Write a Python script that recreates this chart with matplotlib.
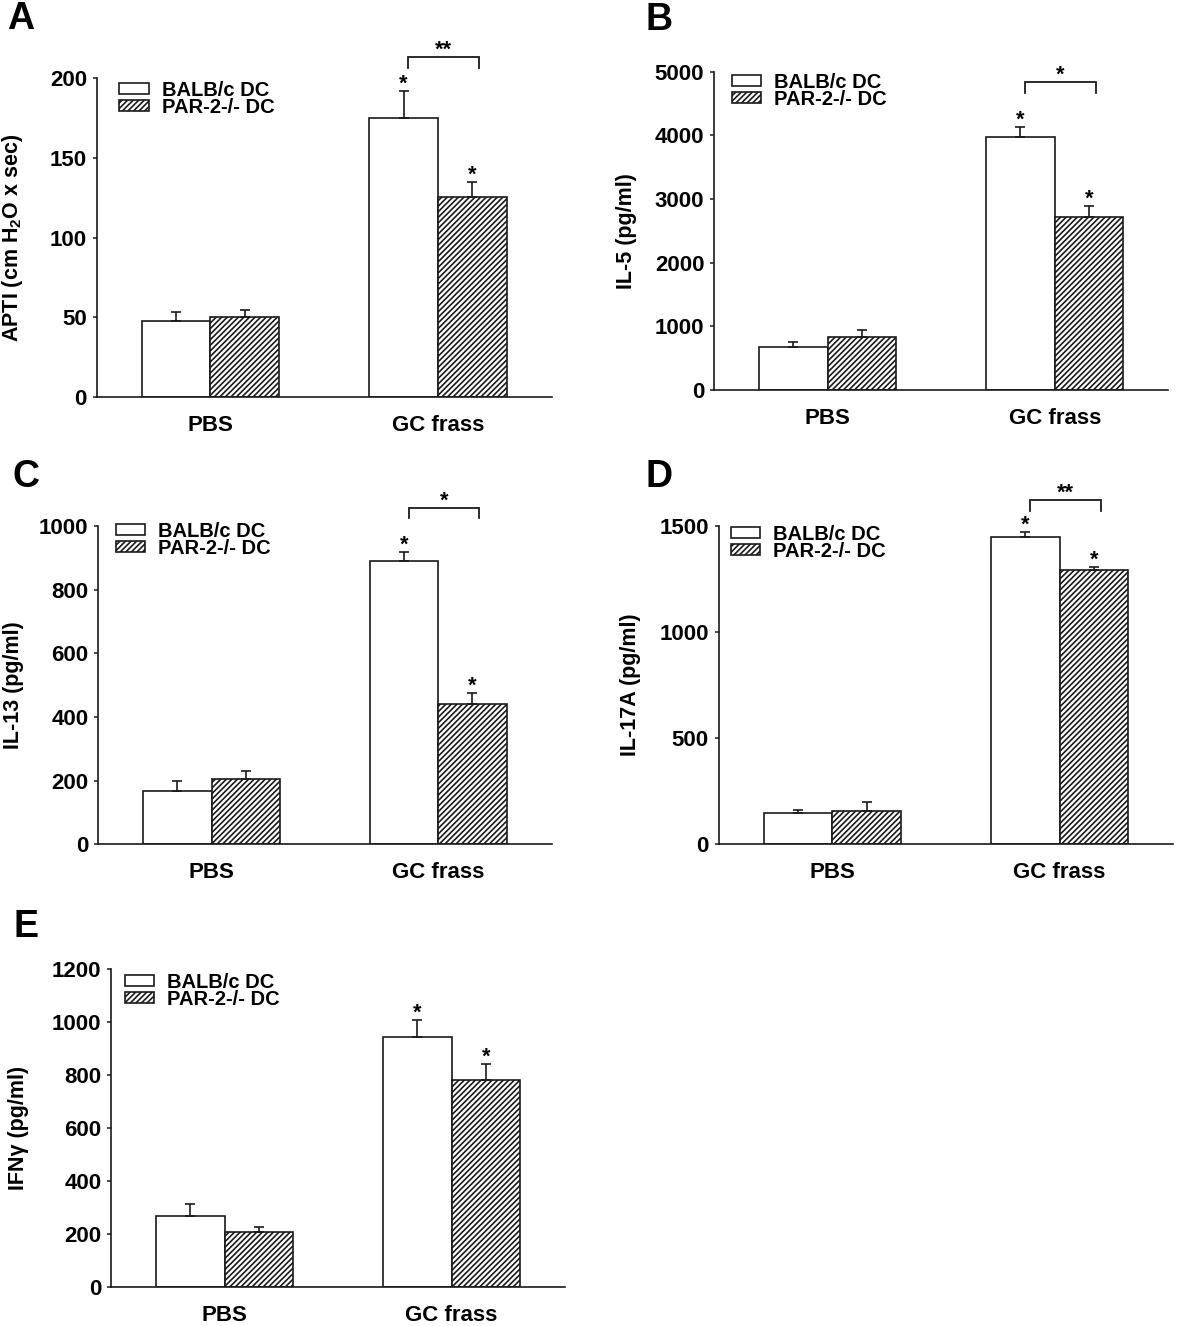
import matplotlib
matplotlib.use("Agg")
import matplotlib.pyplot as plt
import numpy as np

plt.rcParams['font.family'] = ['Liberation Sans', 'DejaVu Sans']
plt.rcParams['font.weight'] = 'bold'
plt.rcParams['mathtext.fontset'] = 'custom'
plt.rcParams['mathtext.rm'] = 'Liberation Sans:bold'
plt.rcParams['mathtext.bf'] = 'Liberation Sans:bold'
plt.rcParams['mathtext.it'] = 'Liberation Sans:bold:italic'
plt.rcParams['hatch.linewidth'] = 1.2

# ---------------- data ----------------
groups = ['PBS', 'GC frass']
series = ['BALB/c DC', 'PAR-2-/- DC']

a_balb = [47.6, 175.1]
a_balb_err = [5.8, 17.1]
a_par = [49.9, 125.3]
a_par_err = [4.6, 9.8]

b_balb = [680, 3979]
b_balb_err = [79, 157]
b_par = [828, 2713]
b_par_err = [114, 177]

c_balb = [168, 891]
c_balb_err = [31, 28]
c_par = [204, 441]
c_par_err = [27, 34]

d_balb = [148, 1447]
d_balb_err = [13, 26]
d_par = [156, 1292]
d_par_err = [41, 16]

e_balb = [268, 943]
e_balb_err = [44, 65]
e_par = [207, 782]
e_par_err = [21, 60]

ylabels = ['APTI (cm H$_{\\mathbf{2}}$O x sec)', 'IL-5 (pg/ml)', 'IL-13 (pg/ml)',
           'IL-17A (pg/ml)', 'IFN\u03b3 (pg/ml)']
yticks = [[0, 50, 100, 150, 200],
          [0, 1000, 2000, 3000, 4000, 5000],
          [0, 200, 400, 600, 800, 1000],
          [0, 500, 1000, 1500],
          [0, 200, 400, 600, 800, 1000, 1200]]
panel_letters = ['A', 'B', 'C', 'D', 'E']
bracket_labels = ['**', '*', '*', '**', None]
bracket_levels = [213.2, 4843, 1056, 1623, None]
bracket_legs = [206.3, 4665, 1024, 1572, None]

# ---------------- layout (pixels) ----------------
W, H = 1200, 1326
boxes = [(96.7, 551.7, 78.3, 396.7),
         (714.0, 1168.3, 71.7, 390.0),
         (98.2, 551.6, 526.0, 844.3),
         (718.6, 1173.3, 526.0, 844.0),
         (111.0, 565.0, 969.3, 1287.0)]
ylabel_off = [84, 89, 86, 90, 94]   # centre of the label, px left of the axis
legend_pos = [(119.3, 81), (732, 73), (116, 522), (731, 525), (125, 973)]
letter_pos = [(7, 1), (645, 2), (12, 459), (646, 459), (13, 909)]

panels = [(a_balb, a_balb_err, a_par, a_par_err),
          (b_balb, b_balb_err, b_par, b_par_err),
          (c_balb, c_balb_err, c_par, c_par_err),
          (d_balb, d_balb_err, d_par, d_par_err),
          (e_balb, e_balb_err, e_par, e_par_err)]

fig = plt.figure(figsize=(W / 100, H / 100), dpi=100)
edge = '#1a1a1a'
width = 0.302
x = np.arange(len(groups))

for i, (balb, balb_err, par, par_err) in enumerate(panels):
    l, r, t, b = boxes[i]
    ax = fig.add_axes([l / W, 1 - b / H, (r - l) / W, (b - t) / H])
    b1 = ax.bar(x - width / 2, balb, width, color='white', edgecolor=edge,
                linewidth=1.2, label=series[0], zorder=2)
    b2 = ax.bar(x + width / 2, par, width, color='white', edgecolor=edge,
                hatch='//////', linewidth=1.2, label=series[1], zorder=2)
    ax.errorbar(x - width / 2, balb, yerr=[np.zeros(len(balb)), balb_err],
                fmt='none', ecolor=edge, elinewidth=1.2, capsize=3.5,
                capthick=1.2, zorder=3)
    ax.errorbar(x + width / 2, par, yerr=[np.zeros(len(par)), par_err],
                fmt='none', ecolor=edge, elinewidth=1.2, capsize=3.5,
                capthick=1.2, zorder=3)
    # stars above GC bars
    for xx, top in [(x[1] - width / 2, balb[1] + balb_err[1]),
                    (x[1] + width / 2, par[1] + par_err[1])]:
        ax.annotate('*', xy=(xx, top), xytext=(0, 1), textcoords='offset points',
                    ha='center', va='baseline', fontsize=15.5, fontweight='bold',
                    annotation_clip=False)
    # bracket
    if bracket_labels[i] is not None:
        x0 = x[1] - width / 2 + 0.02
        x1 = x[1] + width / 2 + 0.03
        yl, yg = bracket_levels[i], bracket_legs[i]
        ax.plot([x0, x0, x1, x1], [yg, yl, yl, yg], color=edge, lw=1.3,
                clip_on=False, solid_joinstyle='miter')
        ax.annotate(bracket_labels[i], xy=((x0 + x1) / 2, yl), xytext=(0, 1),
                    textcoords='offset points', ha='center', va='baseline',
                    fontsize=15.5, fontweight='bold', annotation_clip=False)

    ax.set_xlim(-0.5, 1.5)
    ax.set_ylim(yticks[i][0], yticks[i][-1])
    ax.set_yticks(yticks[i])
    ax.set_xticks(x)
    ax.set_xticklabels(groups, fontsize=16, fontweight='bold')
    ax.tick_params(axis='x', length=0, pad=13)
    ax.tick_params(axis='y', length=3, width=1.1, pad=4, labelsize=16,
                   direction='out', color=edge)
    for lab in ax.get_yticklabels():
        lab.set_fontweight('bold')
    for s in ['top', 'right']:
        ax.spines[s].set_visible(False)
    for s in ['left', 'bottom']:
        ax.spines[s].set_linewidth(1.2)
        ax.spines[s].set_color(edge)
    ax.set_ylabel(ylabels[i], fontsize=15.5, fontweight='bold')
    ax.yaxis.set_label_coords(-(ylabel_off[i] - 12) / (r - l), 0.5)

    lx, ly = legend_pos[i]
    ax.legend(handles=[b1, b2], labels=series, loc='upper left',
              bbox_to_anchor=(lx / W, 1 - ly / H),
              bbox_transform=fig.transFigure, frameon=False, borderpad=0,
              borderaxespad=0, handlelength=1.45,
              handleheight=0.45, handletextpad=0.65, labelspacing=-0.12,
              prop={'weight': 'bold', 'size': 14.5})

    px, py = letter_pos[i]
    fig.text(px / W, 1 - py / H, panel_letters[i], fontsize=27,
             fontweight='bold', ha='left', va='top')

fig.savefig('out.png', dpi=100)
